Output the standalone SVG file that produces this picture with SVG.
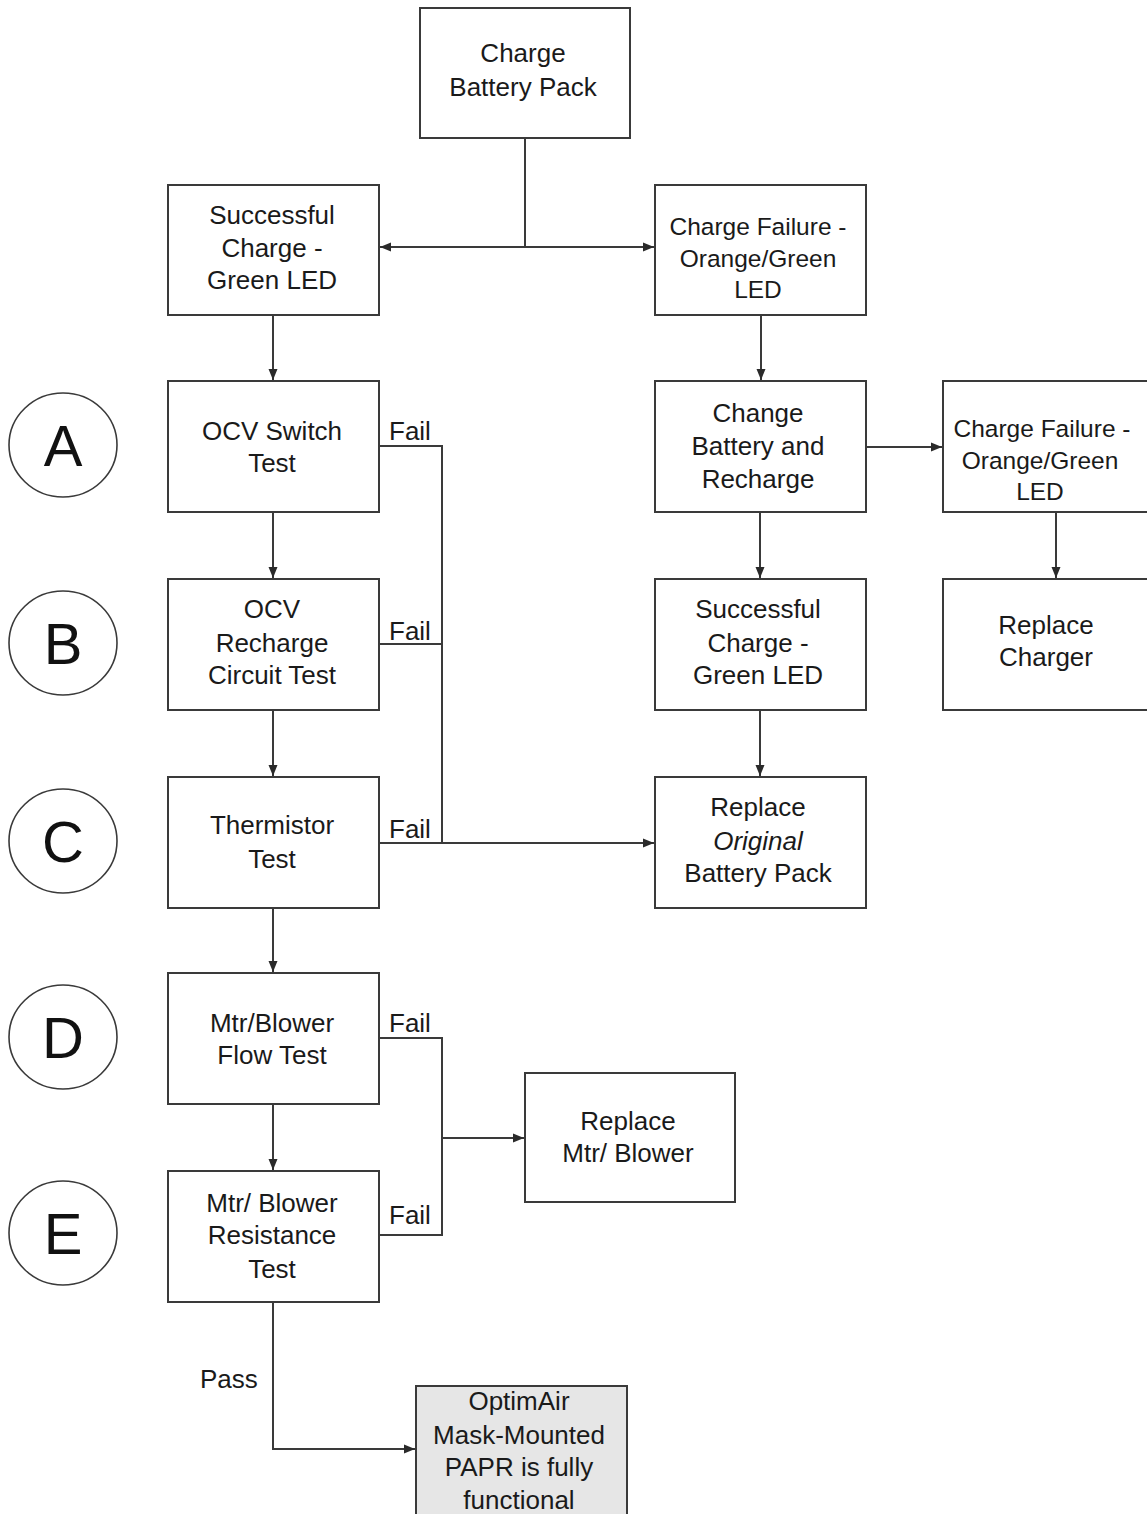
<svg xmlns="http://www.w3.org/2000/svg" width="1147" height="1514" viewBox="0 0 1147 1514">
<style>
.box{fill:#fff;stroke:#3a3a3a;stroke-width:2}
.gray{fill:#e6e6e6;stroke:#3a3a3a;stroke-width:2}
.circ{fill:#fff;stroke:#3a3a3a;stroke-width:1.6}
.t{font-family:"Liberation Sans",Arial,sans-serif;font-size:26px;fill:#1a1a1a;text-anchor:middle}
.s{font-size:24.5px}
.l{font-family:"Liberation Sans",Arial,sans-serif;font-size:26px;fill:#1a1a1a}
.big{font-family:"Liberation Sans",Arial,sans-serif;font-size:58px;fill:#111;text-anchor:middle}
.c{fill:none;stroke:#3a3a3a;stroke-width:2}
</style>
<defs>
<marker id="ah" markerWidth="12" markerHeight="12" refX="11" refY="6" orient="auto" markerUnits="userSpaceOnUse">
<path d="M0,1.5 L11,6 L0,10.5 Z" fill="#2a2a2a"/>
</marker>
</defs>
<rect width="1147" height="1514" fill="#fff"/>

<g id="connectors">
<path class="c" d="M525,138 V247"/>
<path class="c" d="M525,247 H380" marker-end="url(#ah)"/>
<path class="c" d="M525,247 H654" marker-end="url(#ah)"/>
<path class="c" d="M273,315 V380" marker-end="url(#ah)"/>
<path class="c" d="M761,315 V380" marker-end="url(#ah)"/>
<path class="c" d="M866,447 H942" marker-end="url(#ah)"/>
<path class="c" d="M760,512 V578" marker-end="url(#ah)"/>
<path class="c" d="M1056,512 V578" marker-end="url(#ah)"/>
<path class="c" d="M760,710 V776" marker-end="url(#ah)"/>
<path class="c" d="M273,512 V578" marker-end="url(#ah)"/>
<path class="c" d="M273,710 V776" marker-end="url(#ah)"/>
<path class="c" d="M273,908 V972" marker-end="url(#ah)"/>
<path class="c" d="M273,1104 V1170" marker-end="url(#ah)"/>
<path class="c" d="M379,446 H442 V843"/>
<path class="c" d="M379,644 H442"/>
<path class="c" d="M379,843 H654" marker-end="url(#ah)"/>
<path class="c" d="M379,1038 H442 V1235 H379"/>
<path class="c" d="M442,1138 H524" marker-end="url(#ah)"/>
<path class="c" d="M273,1302 V1449 H415" marker-end="url(#ah)"/>
<text class="l" x="389" y="440">Fail</text>
<text class="l" x="389" y="640">Fail</text>
<text class="l" x="389" y="838">Fail</text>
<text class="l" x="389" y="1032">Fail</text>
<text class="l" x="389" y="1224">Fail</text>
<text class="l" x="200" y="1388">Pass</text>
</g>

<g id="n-charge">
<rect class="box" x="420" y="8" width="210" height="130"/>
<text class="t" x="523" y="62">Charge</text>
<text class="t" x="523" y="96">Battery Pack</text>
</g>
<g id="n-success1">
<rect class="box" x="168" y="185" width="211" height="130"/>
<text class="t" x="272" y="224">Successful</text>
<text class="t" x="272" y="257">Charge -</text>
<text class="t" x="272" y="289">Green LED</text>
</g>
<g id="n-fail1">
<rect class="box" x="655" y="185" width="211" height="130"/>
<text class="t s" x="758" y="235">Charge Failure -</text>
<text class="t s" x="758" y="267">Orange/Green</text>
<text class="t s" x="758" y="298">LED</text>
</g>
<g id="n-ocvswitch">
<rect class="box" x="168" y="381" width="211" height="131"/>
<text class="t" x="272" y="440">OCV Switch</text>
<text class="t" x="272" y="472">Test</text>
</g>
<g id="n-changebat">
<rect class="box" x="655" y="381" width="211" height="131"/>
<text class="t" x="758" y="422">Change</text>
<text class="t" x="758" y="455">Battery and</text>
<text class="t" x="758" y="488">Recharge</text>
</g>
<g id="n-fail2">
<rect class="box" x="943" y="381" width="210" height="131"/>
<text class="t s" x="1042" y="437">Charge Failure -</text>
<text class="t s" x="1040" y="469">Orange/Green</text>
<text class="t s" x="1040" y="500">LED</text>
</g>
<g id="n-ocvrecharge">
<rect class="box" x="168" y="579" width="211" height="131"/>
<text class="t" x="272" y="618">OCV</text>
<text class="t" x="272" y="652">Recharge</text>
<text class="t" x="272" y="684">Circuit Test</text>
</g>
<g id="n-success2">
<rect class="box" x="655" y="579" width="211" height="131"/>
<text class="t" x="758" y="618">Successful</text>
<text class="t" x="758" y="652">Charge -</text>
<text class="t" x="758" y="684">Green LED</text>
</g>
<g id="n-replacecharger">
<rect class="box" x="943" y="579" width="210" height="131"/>
<text class="t" x="1046" y="634">Replace</text>
<text class="t" x="1046" y="666">Charger</text>
</g>
<g id="n-thermistor">
<rect class="box" x="168" y="777" width="211" height="131"/>
<text class="t" x="272" y="834">Thermistor</text>
<text class="t" x="272" y="868">Test</text>
</g>
<g id="n-replacebattery">
<rect class="box" x="655" y="777" width="211" height="131"/>
<text class="t" x="758" y="816">Replace</text>
<text class="t" x="758" y="850" font-style="italic">Original</text>
<text class="t" x="758" y="882">Battery Pack</text>
</g>
<g id="n-flow">
<rect class="box" x="168" y="973" width="211" height="131"/>
<text class="t" x="272" y="1032">Mtr/Blower</text>
<text class="t" x="272" y="1064">Flow Test</text>
</g>
<g id="n-replacemotor">
<rect class="box" x="525" y="1073" width="210" height="129"/>
<text class="t" x="628" y="1130">Replace</text>
<text class="t" x="628" y="1162">Mtr/ Blower</text>
</g>
<g id="n-resistance">
<rect class="box" x="168" y="1171" width="211" height="131"/>
<text class="t" x="272" y="1212">Mtr/ Blower</text>
<text class="t" x="272" y="1244">Resistance</text>
<text class="t" x="272" y="1278">Test</text>
</g>
<g id="n-functional">
<rect class="gray" x="416" y="1386" width="211" height="140"/>
<text class="t" x="519" y="1410">OptimAir</text>
<text class="t" x="519" y="1444">Mask-Mounted</text>
<text class="t" x="519" y="1476">PAPR is fully</text>
<text class="t" x="519" y="1509">functional</text>
</g>

<g id="n-A"><ellipse class="circ" cx="63" cy="445" rx="54" ry="52"/><text class="big" x="63" y="466">A</text></g>
<g id="n-B"><ellipse class="circ" cx="63" cy="643" rx="54" ry="52"/><text class="big" x="63" y="664">B</text></g>
<g id="n-C"><ellipse class="circ" cx="63" cy="841" rx="54" ry="52"/><text class="big" x="63" y="862">C</text></g>
<g id="n-D"><ellipse class="circ" cx="63" cy="1037" rx="54" ry="52"/><text class="big" x="63" y="1058">D</text></g>
<g id="n-E"><ellipse class="circ" cx="63" cy="1233" rx="54" ry="52"/><text class="big" x="63" y="1254">E</text></g>
</svg>
